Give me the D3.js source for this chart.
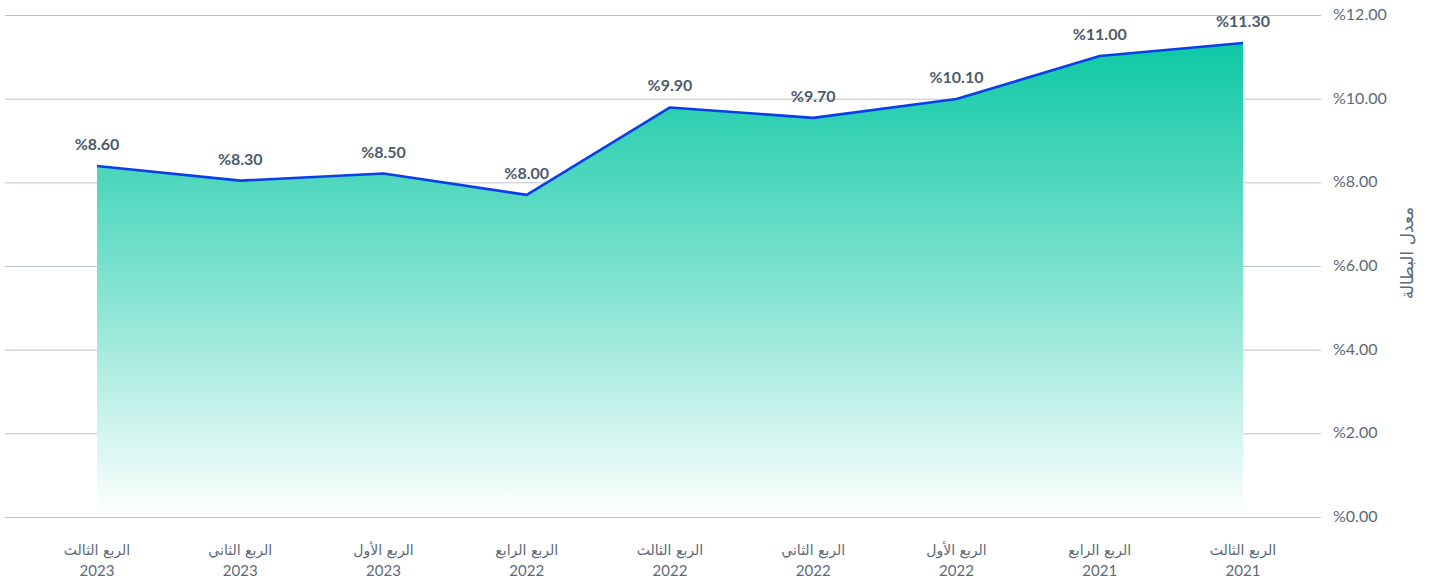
<!DOCTYPE html>
<html>
<head>
<meta charset="utf-8">
<script src="https://cdn.jsdelivr.net/npm/d3@7"></script>
<style>
  body { margin: 0; background: #fff; }
  svg { display: block; }
</style>
</head>
<body>
<svg id="chart" width="1432" height="582"></svg>
<script>
// Quarters in chronological order; the chart reads right-to-left.
const quarters = ["الربع الثالث", "الربع الرابع", "الربع الأول", "الربع الثاني", "الربع الثالث",
                  "الربع الرابع", "الربع الأول", "الربع الثاني", "الربع الثالث"];
const years = ["2021", "2021", "2022", "2022", "2022", "2022", "2023", "2023", "2023"];
// Where the line is drawn
const plotted = [11.33, 11.02, 9.99, 9.54, 9.79, 7.70, 8.21, 8.04, 8.39];
// What the point labels say
const labels = ["%11.30", "%11.00", "%10.10", "%9.70", "%9.90", "%8.00", "%8.50", "%8.30", "%8.60"];
const yTicks = [0, 2, 4, 6, 8, 10, 12];
const axisTitle = "معدل البطالة";

const data = quarters.map((q, i) => ({ i, q, year: years[i], v: plotted[i], label: labels[i] }));

const svg = d3.select("#chart");
const textCol = "#5b6a78";

const x = d3.scalePoint()
  .domain(d3.range(data.length))
  .range([1314.6, 25.4])
  .padding(0.5);

const y = d3.scaleLinear().domain([0, 12]).range([517, 15]);

// gridlines + right-hand tick labels
const grid = svg.append("g");
grid.selectAll("line").data(yTicks).enter().append("line")
  .attr("x1", 5).attr("x2", 1321)
  .attr("y1", d => y(d) + 0.5).attr("y2", d => y(d) + 0.5)
  .attr("stroke", "#bcc3cc").attr("stroke-width", 1);
grid.selectAll("text").data(yTicks).enter().append("text")
  .attr("x", 1333).attr("y", d => y(d) + 5)
  .attr("font-family", "Lato, 'Noto Sans', sans-serif")
  .attr("font-size", 16).attr("fill", textCol)
  .text(d => "%" + d.toFixed(2));

// axis title, rotated
svg.append("text")
  .attr("transform", "translate(1413,253) rotate(-90)")
  .attr("text-anchor", "middle")
  .attr("font-family", "'DejaVu Sans', sans-serif")
  .attr("font-size", 17).attr("fill", textCol)
  .text(axisTitle);

// gradient fill
const defs = svg.append("defs");
const grad = defs.append("linearGradient").attr("id", "fill")
  .attr("gradientUnits", "userSpaceOnUse")
  .attr("x1", 0).attr("x2", 0).attr("y1", y(11.33)).attr("y2", y(0));
grad.append("stop").attr("offset", 0).attr("stop-color", "#0dc8a5");
grad.append("stop").attr("offset", 0.5).attr("stop-color", "#7fe2d0");
grad.append("stop").attr("offset", 1).attr("stop-color", "#ffffff");

const area = d3.area().x(d => x(d.i)).y0(y(0) - 4).y1(d => y(d.v));
const line = d3.line().x(d => x(d.i)).y(d => y(d.v));

svg.append("path").datum(data)
  .attr("d", area).attr("fill", "url(#fill)");

svg.append("path").datum(data)
  .attr("d", line).attr("fill", "none")
  .attr("stroke", "#0b3fe6").attr("stroke-width", 2.6)
  .attr("stroke-linejoin", "round");

// value labels
svg.append("g").selectAll("text").data(data).enter().append("text")
  .attr("x", d => x(d.i)).attr("y", d => y(d.v) - 16)
  .attr("text-anchor", "middle")
  .attr("font-family", "Lato, 'Noto Sans', sans-serif")
  .attr("font-weight", "bold").attr("font-size", 16)
  .attr("fill", "#4b5b6b")
  .text(d => d.label);

// x labels (two lines)
const xl = svg.append("g").selectAll("g").data(data).enter().append("g")
  .attr("transform", d => `translate(${x(d.i)},0)`);
xl.append("text").attr("y", 555).attr("text-anchor", "middle")
  .attr("font-family", "'DejaVu Sans', sans-serif")
  .attr("font-size", 14).attr("fill", textCol)
  .text(d => d.q);
xl.append("text").attr("y", 576).attr("text-anchor", "middle")
  .attr("font-family", "Lato, 'Noto Sans', sans-serif")
  .attr("font-size", 15).attr("fill", textCol)
  .text(d => d.year);
</script>
</body>
</html>
